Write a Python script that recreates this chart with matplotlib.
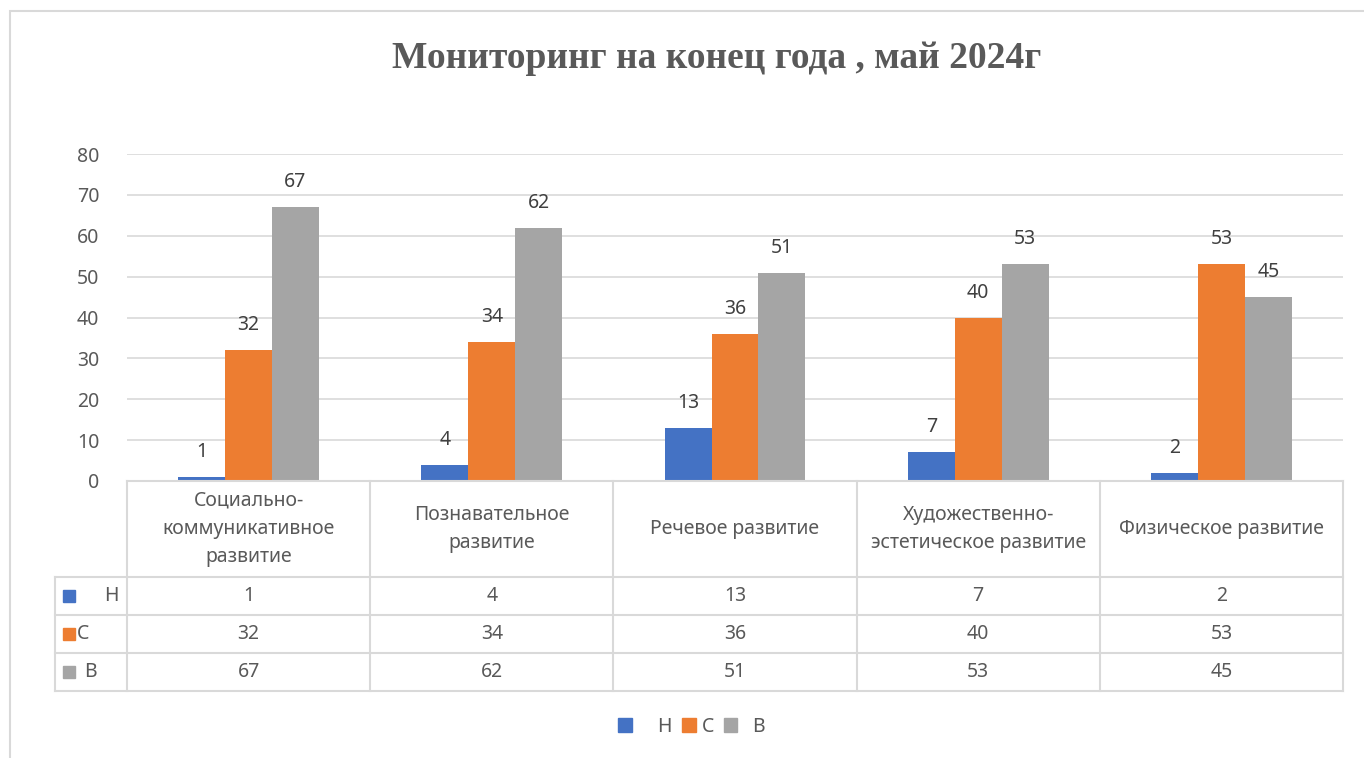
import matplotlib.pyplot as plt
from matplotlib.patches import Patch, Rectangle

categories = ["Социально-\nкоммуникативное\nразвитие", "Познавательное\nразвитие",
              "Речевое развитие", "Художественно-\nэстетическое развитие",
              "Физическое развитие"]
series_names = ["Н", "С", "В"]
values_n = [1, 4, 13, 7, 2]
values_s = [32, 34, 36, 40, 53]
values_b = [67, 62, 51, 53, 45]
title = "Мониторинг на конец года , май 2024г"

colors = ["#4472C4", "#ED7D31", "#A5A5A5"]
text_col = "#595959"
grid_col = "#D9D9D9"
plt.rcParams["font.family"] = ["Noto Sans", "DejaVu Sans"]
fs = 14

W, H = 1364, 758
fig = plt.figure(figsize=(W / 100, H / 100), dpi=100)

def fbox(x0, y0, x1, y1):
    return [x0 / W, 1 - y1 / H, (x1 - x0) / W, (y1 - y0) / H]

# outer chart border
fig.patches.append(Rectangle((10 / W, -0.1), 1.2, 1 - 11 / H + 0.1, transform=fig.transFigure,
                             fill=False, edgecolor="#D9D9D9", lw=1.5))

fig.text(717 / W, 1 - 58 / H, title, ha="center", va="center", fontsize=27,
         fontweight="bold", family="Liberation Serif", color=text_col)

ax = fig.add_axes(fbox(127, 154, 1343, 481))
all_vals = [values_n, values_s, values_b]
bw = 0.193
for k, vals in enumerate(all_vals):
    xs = [i + 0.5 + (k - 1) * bw for i in range(len(categories))]
    bars = ax.bar(xs, vals, width=bw, color=colors[k], zorder=3)
    for b, v in zip(bars, vals):
        ax.annotate(str(v), (b.get_x() + bw / 2, v), xytext=(0, 18), textcoords="offset points",
                    ha="center", va="center", fontsize=fs, color="#404040")
ax.set_xlim(0, len(categories))
ax.set_ylim(0, 80)
ax.set_yticks(range(0, 81, 10))
ax.set_xticks([])
ax.grid(axis="y", color=grid_col, lw=1.2, zorder=0)
for s in ax.spines.values():
    s.set_visible(False)
ax.tick_params(axis="y", length=0, labelsize=fs, labelcolor=text_col, pad=20)

# data table
lw_frac = 72 / 243.2
tax = fig.add_axes(fbox(55, 481, 1343, 691))
tax.set_xlim(-lw_frac, len(categories))
tax.set_ylim(210, 0)
tax.axis("off")
row_tops = [0, 96, 134, 172, 210]
kw = dict(color=grid_col, lw=1.5, clip_on=False)
tax.plot([0, 5], [0, 0], **kw)
for y in row_tops[1:]:
    tax.plot([-lw_frac, 5], [y, y], **kw)
for i in range(len(categories) + 1):
    tax.plot([i, i], [0, 210], **kw)
tax.plot([-lw_frac, -lw_frac], [96, 210], **kw)
for i, c in enumerate(categories):
    tax.text(i + 0.5, 48, c, ha="center", va="center", fontsize=fs, color=text_col,
             linespacing=1.55)
label_off = [0.2, 0.09, 0.12]
for r, vals in enumerate(all_vals):
    yc = (row_tops[r + 1] + row_tops[r + 2]) / 2
    tax.add_patch(Rectangle((-lw_frac + 0.033, yc - 6), 0.05, 12, color=colors[r], clip_on=False))
    tax.text(-lw_frac + label_off[r], yc, series_names[r], ha="left", va="center",
             fontsize=fs, color=text_col)
    for i, v in enumerate(vals):
        tax.text(i + 0.5, yc, str(v), ha="center", va="center", fontsize=fs, color=text_col)

handles = [Patch(color=c) for c in colors]
fig.legend(handles, ["    Н", "С", "  В"], loc="center", bbox_to_anchor=(692 / W, 1 - 727 / H),
           ncol=3, frameon=False, fontsize=fs, labelcolor=text_col, handlelength=0.7,
           handleheight=0.7, handletextpad=0.3, columnspacing=0.5)

fig.savefig("out.png", dpi=100)
